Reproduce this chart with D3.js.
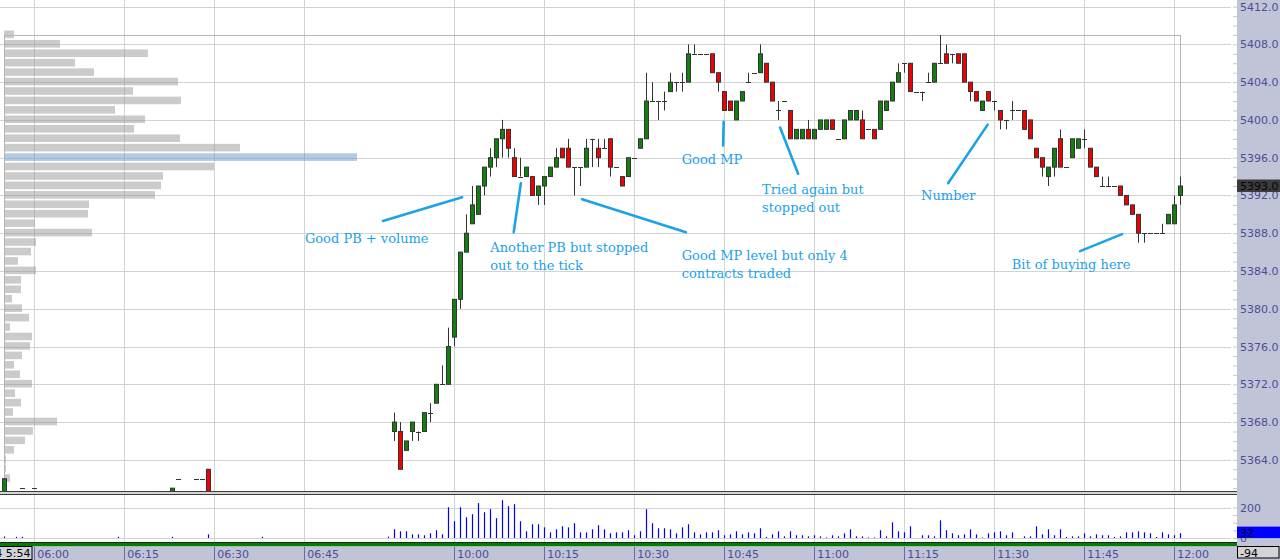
<!DOCTYPE html>
<html>
<head>
<meta charset="utf-8">
<script src="https://cdn.jsdelivr.net/npm/d3@7"></script>
<style>
  body { margin: 0; background: #fff; overflow: hidden; }
  svg { display: block; }
</style>
</head>
<body>
<div id="chart"></div>
<script>
// one slot = one minute on the compressed session axis, slot 0 = 05:54
const startSlot = 66; // first bar of the main session (09:50)

const open = [
  5367, 5367, 5365, 5367, 5367, 5367, 5369, 5370, 5372, 5372,
  5377, 5381, 5386, 5389, 5390, 5393, 5395, 5396, 5398, 5399,
  5396, 5394, 5394, 5394, 5392, 5393, 5394, 5395, 5397, 5397,
  5395, 5395, 5395, 5398, 5397, 5397, 5398, 5395, 5394, 5394,
  5396, 5397, 5398, 5402, 5402, 5402, 5403, 5404, 5404, 5404,
  5407, 5407, 5407, 5407, 5405, 5403, 5402, 5400, 5402, 5404,
  5405, 5405, 5406, 5404, 5401, 5402, 5401, 5398, 5398, 5399,
  5398, 5399, 5399, 5400, 5398, 5398, 5400, 5400, 5400, 5399,
  5399, 5399, 5401, 5402, 5404, 5406, 5406, 5403, 5403, 5404,
  5404, 5406, 5407, 5407, 5407, 5407, 5404, 5403, 5401, 5403,
  5402, 5401, 5400, 5401, 5401, 5401, 5400, 5397, 5396, 5394,
  5395, 5398, 5395, 5396, 5397, 5398, 5397, 5395, 5393, 5393,
  5393, 5393, 5392, 5391, 5390, 5388, 5388, 5388, 5388, 5389,
  5389, 5392
];
const high = [
  5369, 5368, 5366, 5368, 5367, 5369, 5370, 5372, 5374, 5378,
  5381, 5386, 5390, 5393, 5393, 5395, 5397, 5398, 5400, 5399,
  5397, 5396, 5395, 5394, 5393, 5394, 5395, 5397, 5397, 5398,
  5395, 5395, 5398, 5398, 5398, 5398, 5398, 5395, 5394, 5396,
  5396, 5398, 5405, 5404, 5402, 5403, 5405, 5404, 5405, 5408,
  5408, 5407, 5407, 5407, 5405, 5403, 5402, 5402, 5403, 5405,
  5405, 5408, 5406, 5404, 5402, 5402, 5401, 5399, 5399, 5400,
  5399, 5400, 5400, 5400, 5398, 5400, 5401, 5401, 5401, 5399,
  5399, 5402, 5402, 5404, 5406, 5406, 5406, 5403, 5403, 5405,
  5406, 5409, 5408, 5407, 5407, 5407, 5404, 5403, 5402, 5403,
  5402, 5401, 5400, 5402, 5401, 5401, 5400, 5397, 5396, 5395,
  5397, 5399, 5395, 5398, 5398, 5399, 5397, 5395, 5394, 5394,
  5393, 5393, 5392, 5391, 5390, 5388, 5388, 5388, 5389, 5390,
  5392, 5394
];
const low = [
  5366, 5363, 5365, 5366, 5366, 5367, 5368, 5370, 5372, 5372,
  5376, 5380, 5386, 5389, 5390, 5392, 5394, 5395, 5396, 5396,
  5394, 5394, 5394, 5392, 5391, 5391, 5394, 5395, 5396, 5395,
  5392, 5393, 5395, 5395, 5395, 5397, 5394, 5395, 5393, 5394,
  5396, 5397, 5398, 5402, 5400, 5401, 5403, 5403, 5403, 5404,
  5407, 5407, 5407, 5405, 5403, 5401, 5401, 5400, 5402, 5404,
  5405, 5405, 5404, 5402, 5400, 5402, 5398, 5398, 5398, 5398,
  5398, 5399, 5399, 5399, 5398, 5398, 5400, 5400, 5398, 5399,
  5398, 5399, 5401, 5402, 5404, 5405, 5403, 5403, 5402, 5404,
  5404, 5406, 5406, 5406, 5406, 5404, 5402, 5402, 5401, 5402,
  5401, 5399, 5399, 5400, 5401, 5399, 5398, 5396, 5394, 5393,
  5394, 5395, 5395, 5396, 5397, 5397, 5395, 5394, 5393, 5393,
  5393, 5392, 5391, 5390, 5387, 5387, 5388, 5388, 5388, 5389,
  5389, 5391
];
const close = [
  5368, 5363, 5366, 5368, 5367, 5369, 5369, 5372, 5372, 5376,
  5381, 5386, 5388, 5391, 5393, 5395, 5396, 5398, 5399, 5397,
  5394, 5394, 5395, 5392, 5393, 5394, 5395, 5396, 5396, 5395,
  5395, 5395, 5397, 5398, 5396, 5397, 5395, 5395, 5393, 5396,
  5396, 5398, 5402, 5402, 5402, 5402, 5404, 5404, 5404, 5407,
  5407, 5407, 5407, 5405, 5404, 5401, 5401, 5402, 5403, 5404,
  5405, 5407, 5404, 5402, 5401, 5402, 5398, 5399, 5399, 5398,
  5399, 5400, 5400, 5399, 5398, 5400, 5401, 5401, 5398, 5399,
  5398, 5402, 5402, 5404, 5405, 5406, 5403, 5403, 5403, 5404,
  5406, 5406, 5406, 5407, 5406, 5404, 5403, 5402, 5402, 5402,
  5402, 5400, 5400, 5401, 5401, 5399, 5398, 5396, 5395, 5395,
  5397, 5395, 5395, 5398, 5398, 5398, 5395, 5394, 5393, 5393,
  5393, 5392, 5391, 5390, 5388, 5388, 5388, 5388, 5388, 5390,
  5391, 5393
];

// overnight bars at the far left
const earlySlots = [1, 4, 6, 29, 30, 33, 34, 35];
const earlyOpen  = [5360.5, 5361, 5361, 5360.5, 5362, 5362, 5362, 5363];
const earlyHigh  = [5362, 5361, 5361, 5361, 5362, 5362, 5362, 5363];
const earlyLow   = [5360.5, 5361, 5361, 5360.5, 5362, 5362, 5362, 5360.5];
const earlyClose = [5362, 5361, 5361, 5361, 5362, 5362, 5362, 5360.5];

const volStart = 65;
const volume = [
  9, 57, 44, 44, 24, 24, 18, 31, 51, 24,
  202, 110, 202, 136, 156, 229, 169, 189, 130, 248,
  209, 222, 110, 44, 90, 90, 70, 37, 57, 77,
  70, 97, 37, 37, 57, 84, 57, 31, 37, 37,
  51, 18, 44, 189, 97, 64, 64, 57, 31, 70,
  90, 37, 24, 37, 37, 51, 18, 24, 44, 24,
  37, 31, 64, 7, 24, 44, 11,
  44, 18, 18, 11, 18, 11, 4, 18, 11, 31,
  57, 11, 11, 4, 4, 51, 11, 103, 44, 37,
  77, 0, 18, 18, 11, 116, 51, 31, 18, 24,
  57, 24, 4, 31, 37, 44, 18, 37, 0, 11,
  11, 77, 24, 57, 18, 57, 7, 11, 11, 31,
  11, 24, 18, 18, 7, 11, 37, 37, 44, 37,
  31, 7, 37, 24, 18, 32
];
const earlyVolSlots = [1, 3, 4, 20, 29, 35, 44];
const earlyVolume = [10, 8, 8, 8, 8, 24, 8];

// volume at price profile
const profilePrices = [
  5409, 5408, 5407, 5406, 5405, 5404, 5403, 5402, 5401, 5400,
  5399, 5398, 5397, 5396, 5395, 5394, 5393, 5392, 5391, 5390,
  5389, 5388, 5387, 5386, 5385, 5384, 5383, 5382, 5381, 5380,
  5379, 5378, 5377, 5376, 5375, 5374, 5373, 5372, 5371, 5370,
  5369, 5368, 5367, 5366, 5365, 5364, 5363, 5362, 5361
];
const profileVolume = [
  10, 56, 144, 71, 90, 174, 129, 177, 111, 141,
  130, 176, 236, 353, 210, 159, 157, 151, 85, 84,
  31, 88, 32, 27, 14, 32, 17, 17, 8, 18,
  25, 6, 28, 26, 18, 10, 16, 28, 11, 17,
  9, 53, 29, 21, 10, 2, 2, 6, 3
];
const pocPrice = 5396;

const priceTicks = [5364, 5368, 5372, 5376, 5380, 5384, 5388, 5392, 5396, 5400, 5404, 5408, 5412];
const timeLabels = ["06:00", "06:15", "06:30", "06:45", "10:00", "10:15", "10:30", "10:45", "11:00", "11:15", "11:30", "11:45", "12:00"];
const timeSlots = [6, 21, 36, 51, 76, 91, 106, 121, 136, 151, 166, 181, 196];
const volTicks = [0, 200];

const lastPrice = 5393;
const lastVolume = 32;
const firstTime = "14 5:54";
const netChange = "-94";

const notes = [
  { text: ["Good PB + volume"], at: [51.1, 5387.0], from: [64.1, 5389.3], to: [77.3, 5391.8] },
  { text: ["Another PB but stopped", "out to the tick"], at: [82.0, 5386.0], from: [85.9, 5388.1], to: [87.1, 5393.3] },
  { text: ["Good MP level but only 4", "contracts traded"], at: [113.9, 5385.2], from: [97.3, 5391.6], to: [114.6, 5388.1] },
  { text: ["Good MP"], at: [113.9, 5395.3], from: [120.9, 5399.8], to: [120.8, 5397.3] },
  { text: ["Tried again but", "stopped out"], at: [127.3, 5392.2], from: [130.3, 5399.2], to: [133.3, 5394.3] },
  { text: ["Number"], at: [153.8, 5391.5], from: [164.9, 5399.5], to: [158.3, 5393.3] },
  { text: ["Bit of buying here"], at: [168.9, 5384.2], from: [187.3, 5387.9], to: [180.3, 5386.1] },
];

const width = 1280, height = 560;
const axisX = 1237;      // right axis band starts here
const gridRight = 1231;
const priceBottom = 491;
const volTop = 494.5;
const bandTop = 546.5;

const axisFont = "DejaVu Sans, Verdana, sans-serif";
const axisColor = "#4d4d96";
const bandColor = "#c1c4d6";
const gridColor = "#d3d3d3";
const upColor = "#12800f";
const downColor = "#f00000";
const noteColor = "#1ca2e6";

const x = d3.scaleLinear().domain([0, 1]).range([-1.7, 4.3]);
const y = d3.scaleLinear().domain([5360.7, 5412.7]).range([priceBottom, 0]);
const yv = d3.scaleLinear().domain([0, 200]).range([538, 507.5]);
const px = d3.scaleLinear().domain([0, 353]).range([4, 357]);
const cx = (s) => Math.round(x(s)) + 0.5;

const svg = d3.select("#chart").append("svg")
  .attr("width", width).attr("height", height)
  .attr("viewBox", `0 0 ${width} ${height}`);

svg.append("defs").append("clipPath").attr("id", "priceClip")
  .append("rect").attr("x", 0).attr("y", 0).attr("width", axisX).attr("height", priceBottom);

// ---------- grids ----------
const grid = svg.append("g");
grid.append("g")
  .attr("transform", `translate(0,${bandTop})`)
  .call(d3.axisBottom(x).tickValues(timeSlots).tickSize(-bandTop).tickFormat(""))
  .call((g) => g.select(".domain").remove());
grid.append("g")
  .attr("transform", `translate(${gridRight},0)`)
  .call(d3.axisLeft(y).tickValues(priceTicks).tickSize(gridRight).tickFormat(""))
  .call((g) => g.select(".domain").remove());
grid.append("g")
  .attr("transform", `translate(${gridRight},0)`)
  .call(d3.axisLeft(yv).tickValues(volTicks).tickSize(gridRight).tickFormat(""))
  .call((g) => g.select(".domain").remove());
grid.selectAll("line").attr("stroke", gridColor).attr("shape-rendering", "crispEdges");

// ---------- price panel ----------
const plot = svg.append("g").attr("clip-path", "url(#priceClip)");

// volume profile
plot.append("g")
  .selectAll("rect")
  .data(profilePrices)
  .join("rect")
  .attr("x", px(0))
  .attr("y", (d) => y(d) - 4.4)
  .attr("width", (d, i) => px(profileVolume[i]) - px(0))
  .attr("height", 7.6)
  .attr("fill", (d) => (d === pocPrice ? "#6696c6" : "#989898"))
  .attr("fill-opacity", 0.5);

// profile range box
plot.append("rect")
  .attr("x", px(0) + 0.5)
  .attr("y", Math.round(y(d3.max(profilePrices))) + 0.5)
  .attr("width", cx(startSlot + open.length - 1) - px(0) - 0.5)
  .attr("height", priceBottom)
  .attr("fill", "none")
  .attr("stroke", "#b5b5b5");

const bars = open.map((o, i) => ({ slot: startSlot + i, o, h: high[i], l: low[i], c: close[i] }))
  .concat(earlySlots.map((s, i) => ({ slot: s, o: earlyOpen[i], h: earlyHigh[i], l: earlyLow[i], c: earlyClose[i] })));

const candle = plot.append("g")
  .selectAll("g")
  .data(bars)
  .join("g");

candle.filter((d) => d.h > d.l)
  .append("line")
  .attr("x1", (d) => cx(d.slot)).attr("x2", (d) => cx(d.slot))
  .attr("y1", (d) => y(d.h)).attr("y2", (d) => y(d.l))
  .attr("stroke", "#333");

candle.filter((d) => d.o !== d.c)
  .append("rect")
  .attr("x", (d) => cx(d.slot) - 2)
  .attr("y", (d) => y(Math.max(d.o, d.c)))
  .attr("width", 4)
  .attr("height", (d) => y(Math.min(d.o, d.c)) - y(Math.max(d.o, d.c)))
  .attr("fill", (d) => (d.c > d.o ? upColor : downColor))
  .attr("stroke", "#333");

candle.filter((d) => d.o === d.c)
  .append("line")
  .attr("x1", (d) => cx(d.slot) - 2.5).attr("x2", (d) => cx(d.slot) + 2.5)
  .attr("y1", (d) => Math.round(y(d.c)) + 0.5).attr("y2", (d) => Math.round(y(d.c)) + 0.5)
  .attr("stroke", "#333");

// ---------- annotations ----------
const note = svg.append("g")
  .selectAll("g")
  .data(notes)
  .join("g");

note.append("line")
  .attr("x1", (d) => x(d.from[0])).attr("y1", (d) => y(d.from[1]))
  .attr("x2", (d) => x(d.to[0])).attr("y2", (d) => y(d.to[1]))
  .attr("stroke", noteColor)
  .attr("stroke-width", 2.6)
  .attr("stroke-linecap", "round");

note.append("text")
  .attr("x", (d) => x(d.at[0]))
  .attr("y", (d) => y(d.at[1]))
  .attr("fill", noteColor)
  .style("font-family", "DejaVu Serif, serif")
  .style("font-size", "13px")
  .selectAll("tspan")
  .data((d) => d.text.map((t) => ({ t, x0: x(d.at[0]) })))
  .join("tspan")
  .attr("x", (d) => d.x0)
  .attr("dy", (d, i) => (i === 0 ? 0 : 18))
  .text((d) => d.t);

// ---------- panel separators ----------
svg.append("rect")
  .attr("x", 0).attr("y", priceBottom).attr("width", axisX).attr("height", volTop - priceBottom)
  .attr("fill", "#d6d6d6");
svg.append("g")
  .selectAll("line")
  .data([priceBottom + 0.5, volTop])
  .join("line")
  .attr("x1", 0).attr("x2", axisX)
  .attr("y1", (d) => d).attr("y2", (d) => d)
  .attr("stroke", "#3c3c3c");

// ---------- volume panel ----------
const vols = volume.map((v, i) => ({ slot: volStart + i, v }))
  .concat(earlyVolSlots.map((s, i) => ({ slot: s, v: earlyVolume[i] })))
  .filter((d) => d.v > 0);

svg.append("g")
  .selectAll("line")
  .data(vols)
  .join("line")
  .attr("x1", (d) => cx(d.slot)).attr("x2", (d) => cx(d.slot))
  .attr("y1", yv(0)).attr("y2", (d) => yv(d.v))
  .attr("stroke", "#0000ff")
  .attr("stroke-width", 1.2);

svg.append("line")
  .attr("x1", 0).attr("x2", axisX).attr("y1", 542.5).attr("y2", 542.5)
  .attr("stroke", "#222");
svg.append("rect")
  .attr("x", 0).attr("y", 543).attr("width", axisX).attr("height", bandTop - 543)
  .attr("fill", "#008000");

// ---------- right axis ----------
svg.append("rect")
  .attr("x", axisX).attr("y", 0).attr("width", width - axisX).attr("height", height)
  .attr("fill", bandColor);

const minor = svg.append("g").attr("transform", `translate(${axisX},0)`);
minor.call(d3.axisLeft(y).tickValues(d3.range(5361, 5413)).tickSize(4).tickFormat(""));
minor.call((g) => g.select(".domain").remove());
minor.selectAll("line").attr("stroke", "#c8c8c8");

const volMinor = svg.append("g").attr("transform", `translate(${axisX},0)`);
volMinor.call(d3.axisLeft(yv).tickValues([0, 50, 100, 150, 200]).tickSize(4).tickFormat(""));
volMinor.call((g) => g.select(".domain").remove());
volMinor.selectAll("line").attr("stroke", "#c8c8c8");

const priceAxis = svg.append("g")
  .attr("transform", `translate(${axisX},0)`)
  .call(d3.axisRight(y).tickValues(priceTicks).tickSize(0).tickPadding(3).tickFormat(d3.format(".1f")));
const volAxis = svg.append("g")
  .attr("transform", `translate(${axisX},0)`)
  .call(d3.axisRight(yv).tickValues(volTicks).tickSize(0).tickPadding(3));
[priceAxis, volAxis].forEach((a) => {
  a.select(".domain").remove();
  a.selectAll("text")
    .attr("fill", axisColor)
    .style("font-family", axisFont)
    .style("font-size", "11px");
});

// last price marker
const lastP = svg.append("g").attr("transform", `translate(${axisX},${y(lastPrice)})`);
lastP.append("rect").attr("x", 0).attr("y", -6.5).attr("width", width - axisX).attr("height", 12.5).attr("fill", "#3b3b3b");
lastP.append("text").attr("x", 3).attr("y", 4.2).text(d3.format(".1f")(lastPrice))
  .attr("fill", "#050505").style("font-family", axisFont).style("font-size", "11px");

// last volume marker
const lastV = svg.append("g").attr("transform", `translate(${axisX},${yv(lastVolume)})`);
lastV.append("rect").attr("x", 0).attr("y", -6.5).attr("width", width - axisX).attr("height", 11.5).attr("fill", "#0000ff");
lastV.append("text").attr("x", 3).attr("y", 3.8).text(lastVolume)
  .attr("fill", "#000").style("font-family", axisFont).style("font-size", "11px");

// ---------- time axis ----------
svg.append("rect")
  .attr("x", 0).attr("y", bandTop).attr("width", axisX).attr("height", height - bandTop)
  .attr("fill", bandColor);

const timeAxis = svg.append("g")
  .attr("transform", `translate(0,${bandTop})`)
  .call(d3.axisBottom(x).tickValues(timeSlots).tickSize(height - bandTop).tickFormat((d, i) => timeLabels[i]));
timeAxis.select(".domain").remove();
timeAxis.selectAll("line").attr("stroke", "#6a6aa6").attr("shape-rendering", "crispEdges");
timeAxis.selectAll("text")
  .attr("x", 2.5)
  .attr("y", 11)
  .attr("dy", 0)
  .attr("text-anchor", "start")
  .attr("fill", axisColor)
  .style("font-family", axisFont)
  .style("font-size", "11px");

// first visible time box
svg.append("rect")
  .attr("x", -1).attr("y", bandTop).attr("width", 33).attr("height", 13)
  .attr("fill", "#d2d2d8").attr("stroke", "#000");
svg.append("text")
  .attr("x", 30.5).attr("y", bandTop + 10.8)
  .attr("text-anchor", "end")
  .attr("fill", "#000")
  .style("font-family", axisFont).style("font-size", "11px")
  .text(firstTime);

// net change box
svg.append("rect")
  .attr("x", axisX + 0.5).attr("y", bandTop).attr("width", width - axisX - 1.5).attr("height", 11.5)
  .attr("fill", "#d4d4d4").attr("stroke", "#000");
svg.append("text")
  .attr("x", axisX + 3).attr("y", bandTop + 10)
  .attr("fill", "#000")
  .style("font-family", axisFont).style("font-size", "11px")
  .text(netChange);
</script>
</body>
</html>
